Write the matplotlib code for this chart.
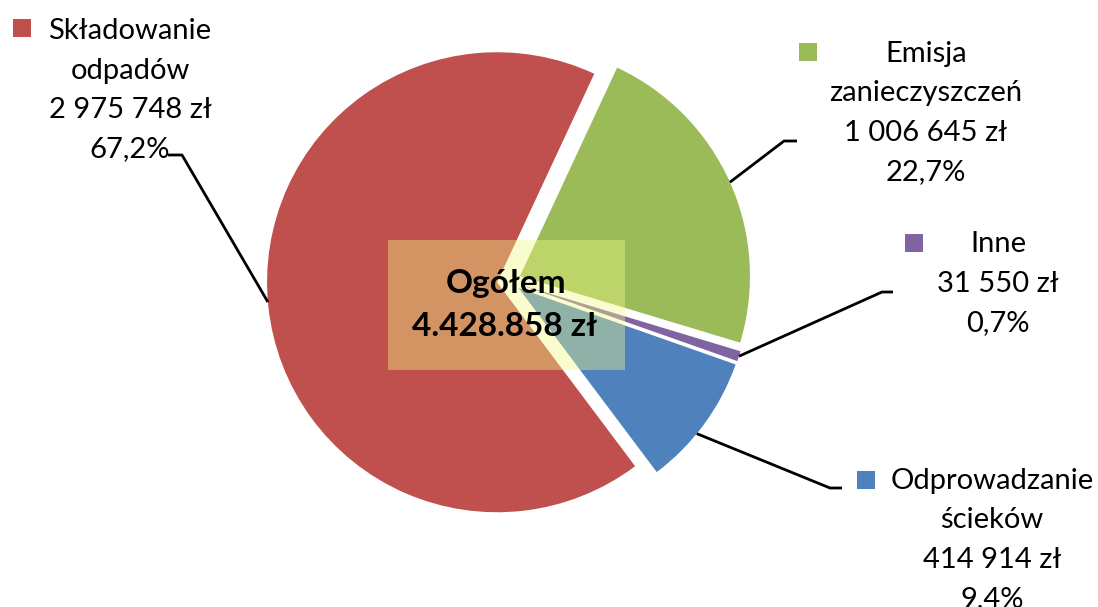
import numpy as np
import matplotlib.pyplot as plt
from matplotlib.patches import Rectangle

plt.rcParams['font.family'] = ['Lato', 'DejaVu Sans']

# dane - kolejnosc zgodnie z ruchem wskazowek zegara od gory
names = ['Emisja\nzanieczyszczeń', 'Inne', 'Odprowadzanie\nścieków', 'Składowanie\nodpadów']
values = [1006645, 31550, 414914, 2975748]
colors = ['#9BBB59', '#8064A2', '#4F81BD', '#C0504D']
total_label = ['Ogółem', '4.428.858 zł']

W, H = 1098, 607
fig = plt.figure(figsize=(W / 100, H / 100), dpi=100)
ax = fig.add_axes([0, 0, 1, 1])

# wspolrzedne w pikselach, os y w dol
radius = 230
wedges, _ = ax.pie(values, colors=colors, startangle=-65, counterclock=True,
                   center=(509, 281), radius=radius, explode=[12] * 4,
                   wedgeprops=dict(linewidth=0))
ax.set_xlim(0, W)
ax.set_ylim(H, 0)
ax.set_aspect('equal')
ax.axis('off')

total = sum(values)

# pozycje etykiet (srodek tekstu, y pierwszej linii)
label_pos = [(926, 54), (998, 244), (992, 481), (130, 31)]
key_pos = [(799, 43), (905, 234), (857, 471), (13, 19)]
leader = [[(784, 141), (797, 141)],
          [(882, 292), (893, 292)],
          [(830, 488), (842, 488)],
          [(182, 155), (168, 155)]]
# przesuniecie punktu zaczepienia linii wzgledem srodka luku (stopnie)
anchor_shift = [0, 0, 3, 1]

for i, w in enumerate(wedges):
    pct = values[i] / total * 100
    lines = names[i].split('\n') + [f"{values[i]:,}".replace(',', ' ') + ' zł',
                                    f"{pct:.1f}%".replace('.', ',')]
    x, y0 = label_pos[i]
    for k, line in enumerate(lines):
        ax.text(x, y0 + k * 39.5, line, ha='center', va='center', fontsize=21, color='black')
    kx, ky = key_pos[i]
    ax.add_patch(Rectangle((kx, ky), 18, 18, color=colors[i], lw=0))

    # linia odniesienia od srodka luku wycinka
    mid = np.deg2rad((w.theta1 + w.theta2) / 2 + anchor_shift[i])
    cx, cy = w.center
    ax0 = cx + w.r * np.cos(mid)
    ay0 = cy + w.r * np.sin(mid)
    xs = [ax0] + [p[0] for p in leader[i]]
    ys = [ay0] + [p[1] for p in leader[i]]
    ax.plot(xs, ys, color='black', lw=2, solid_capstyle='butt')

# pole z suma
ax.add_patch(Rectangle((388, 240), 237, 130, facecolor=(242/255, 250/255, 134/255),
                       alpha=0.4, lw=0, zorder=5))
ax.text(506, 284, total_label[0], ha='center', va='center', fontsize=24,
        fontweight='bold', zorder=6)
ax.text(505, 327, total_label[1], ha='center', va='center', fontsize=24,
        fontweight='bold', zorder=6)

fig.savefig('out.png', dpi=100)
